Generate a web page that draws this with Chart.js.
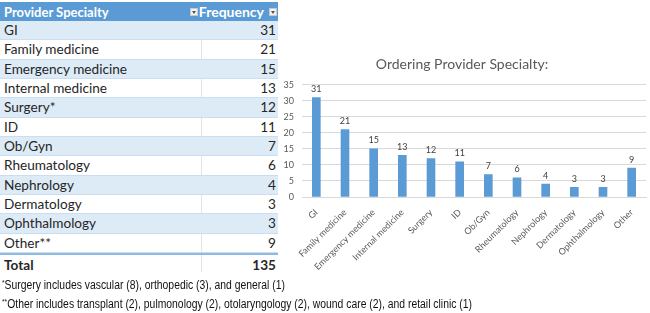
<!DOCTYPE html>
<html>
<head>
<meta charset="utf-8">
<script src="https://cdn.jsdelivr.net/npm/chart.js@4"></script>
<style>
  body { margin: 0; width: 650px; height: 313px; background: #fff; overflow: hidden; position: relative; font-family: Lato, "Open Sans", sans-serif; }
  #tbl { position: absolute; left: 0; top: 2px; width: 278px; }
  .row { position: relative; height: 19.33px; line-height: 19px; font-size: 13.6px; color: #262626; box-sizing: border-box; border-bottom: 1px solid #c9def2; }
  .row.band { background: #ddebf7; }
  .row .c1 { position: absolute; left: 4px; top: 0; transform-origin: left center; white-space: nowrap; }
  .row .c2 { position: absolute; right: 2px; top: 0; }
  .row .div { position: absolute; left: 201px; top: 0; bottom: 0; border-left: 1px solid #e4e4e4; }
  .row.band .div { display: none; }
  .hdr { height: 19px; background: #5b9bd5; color: #fff; font-weight: bold; border: none; font-size: 14px; }
  .hdr .div { display: none; }
  .tot { font-weight: bold; border-top: 2px solid #8dbae2; border-bottom: none; height: 19px; line-height: 20px; }
  .icon { position: absolute; top: 6px; width: 8px; height: 8px; background: #f2f2f2; border: 1px solid #c8c8c8; box-sizing: border-box; }
  .icon:after { content: ""; position: absolute; left: 1px; top: 2px; border-left: 2.5px solid transparent; border-right: 2.5px solid transparent; border-top: 3px solid #555; }
  #chartBox { position: absolute; left: 278px; top: 40px; width: 372px; height: 235px; }
  #notes { position: absolute; left: 2px; top: 274px; font-family: "Liberation Sans", Arial, sans-serif; font-size: 12.5px; color: #111; transform: scaleX(0.83); transform-origin: left top; white-space: nowrap; }
  #notes div { height: 18.5px; line-height: 18px; }
  #notes sup { font-size: 8px; vertical-align: 4px; }
</style>
</head>
<body>
<div id="tbl"></div>
<div id="chartBox"><canvas id="myChart"></canvas></div>
<div id="notes">
  <div><sup>*</sup>Surgery includes vascular (8), orthopedic (3), and general (1)</div>
  <div><sup>**</sup>Other includes transplant (2), pulmonology (2), otolaryngology (2), wound care (2), and retail clinic (1)</div>
</div>
<script>
// categories & values
var categories = ['GI', 'Family medicine', 'Emergency medicine', 'Internal medicine', 'Surgery', 'ID',
    'Ob/Gyn', 'Rheumatology', 'Nephrology', 'Dermatology', 'Ophthalmology', 'Other'];
var tableLabels = ['GI', 'Family medicine', 'Emergency medicine', 'Internal medicine', 'Surgery*', 'ID',
    'Ob/Gyn', 'Rheumatology', 'Nephrology', 'Dermatology', 'Ophthalmology', 'Other**'];
var frequency = [31, 21, 15, 13, 12, 11, 7, 6, 4, 3, 3, 9];
var yTicks = [0, 5, 10, 15, 20, 25, 30, 35];

// table on the left
var tbl = document.getElementById('tbl');
var html = '<div class="row hdr"><span class="c1" id="hdrTxt">Provider Specialty</span>' +
    '<span class="icon" style="left:190px"></span>' +
    '<span class="c2" style="right:14px">Frequency</span>' +
    '<span class="icon" style="left:269px"></span></div>';
var total = 0;
for (var i = 0; i < tableLabels.length; i++) {
    total += frequency[i];
    html += '<div class="row' + (i % 2 == 0 ? ' band' : '') + '"><span class="c1">' + tableLabels[i] +
        '</span><span class="div"></span><span class="c2">' + frequency[i] + '</span></div>';
}
html += '<div class="row tot"><span class="c1">Total</span><span class="div"></span><span class="c2">' + total + '</span></div>';
tbl.innerHTML = html;

// header text is narrower in the original (Calibri bold)
var hdrTxt = document.getElementById('hdrTxt');
hdrTxt.style.transform = 'scaleX(' + (105 / hdrTxt.offsetWidth) + ')';

// value labels above the bars
var barLabels = {
    id: 'barLabels',
    afterDatasetsDraw: function (chart) {
        var ctx = chart.ctx;
        var meta = chart.getDatasetMeta(0);
        ctx.save();
        ctx.font = '9px Lato';
        ctx.fillStyle = '#404040';
        ctx.textAlign = 'center';
        ctx.textBaseline = 'bottom';
        meta.data.forEach(function (bar, idx) {
            ctx.fillText(frequency[idx], bar.x, bar.y - 4);
        });
        ctx.restore();
    }
};

const ctx = document.getElementById('myChart');

new Chart(ctx, {
    type: 'bar',
    data: {
        labels: categories,
        datasets: [{
            data: frequency,
            backgroundColor: '#5b9bd5',
            barThickness: 8
        }]
    },
    plugins: [barLabels],
    options: {
        responsive: true,
        maintainAspectRatio: false,
        animation: false,
        layout: { padding: { right: 4, bottom: 0 } },
        plugins: {
            legend: { display: false },
            tooltip: { enabled: false },
            title: {
                display: true,
                text: 'Ordering Provider Specialty:',
                color: '#595959',
                font: { family: 'Lato', size: 14, weight: 'normal' },
                padding: { top: 16, bottom: 12 }
            }
        },
        scales: {
            x: {
                grid: { display: false },
                border: { color: '#d9d9d9' },
                ticks: {
                    color: '#595959',
                    font: { family: 'Lato', size: 9 },
                    minRotation: 45,
                    maxRotation: 45,
                    autoSkip: false,
                    padding: 2
                },
                afterFit: function (scale) { scale.height = 78; }
            },
            y: {
                min: 0,
                max: 35,
                afterBuildTicks: function (scale) {
                    scale.ticks = yTicks.map(function (v) { return { value: v }; });
                },
                grid: { color: '#d9d9d9', drawTicks: false },
                border: { display: false },
                ticks: {
                    color: '#595959',
                    font: { family: 'Lato', size: 9 },
                    padding: 8
                },
                afterFit: function (scale) { scale.width = 24; }
            }
        }
    }
});
</script>
</body>
</html>
